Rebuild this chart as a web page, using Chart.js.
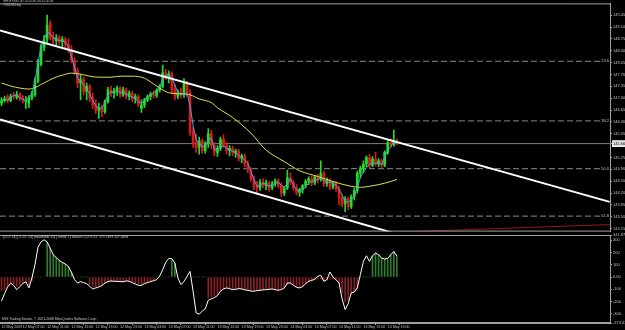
<!DOCTYPE html>
<html>
<head>
<meta charset="utf-8">
<script src="https://cdn.jsdelivr.net/npm/chart.js@4.4.0/dist/chart.umd.min.js"></script>
<style>
  html, body { margin: 0; padding: 0; background: #000; }
  #wrap { position: relative; width: 625px; height: 330px; background: #000; overflow: hidden; }
  canvas { position: absolute; left: 0; }
  #main { top: 0; }
  #ind { top: 229px; }
  .txt { position: absolute; color: #c8c8c8; font-family: "Liberation Sans", Arial, sans-serif; white-space: nowrap; line-height: 1; }
</style>
</head>
<body>
<div id="wrap">
  <canvas id="main" width="625" height="235"></canvas>
  <canvas id="ind" width="625" height="101"></canvas>
  <div class="txt" style="left:3px; top:1px; font-size:2.6px;">GBPJPY,M30 145.74 145.80 145.63 145.66</div>
  <div class="txt" style="left:3px; top:5px; font-size:2.6px;">#13552924 buy</div>
  <div class="txt" style="left:3px; top:236px; font-size:3.4px;">[CCI: 14] [TCCI: 14] [ma=EMA: 20] [Trend: 1] Values CCI/TCCI: 171.1693 127.6894</div>
  <div class="txt" style="left:2px; top:318px; font-size:3.4px;">MIG Trading Station, &copy; 2001-2008 MetaQuotes Software Corp.</div>
</div>
<script>
"use strict";

// GBPJPY M30 bars, 12 May 03:30 .. 14 May 20:30
const open = [
  146.85,146.93,147.05,146.92,147.10,147.02,147.12,147.04,146.90,146.85,
  147.00,147.10,147.50,148.00,148.50,148.75,149.20,148.82,148.70,148.78,
  148.66,148.74,148.60,148.45,148.12,147.80,147.45,147.55,147.20,147.35,
  147.00,146.80,146.65,146.72,146.60,146.90,147.25,147.15,147.22,147.30,
  147.10,147.25,147.05,147.15,146.98,147.05,146.70,146.80,146.95,147.05,
  147.12,147.08,147.24,147.35,147.75,147.62,147.72,147.25,147.05,147.18,
  147.10,147.45,147.15,146.00,145.70,145.55,145.75,145.45,145.65,145.95,
  145.60,145.40,145.52,145.78,145.62,145.45,145.52,145.38,145.44,145.22,
  145.30,145.05,144.88,144.62,144.40,144.35,144.52,144.42,144.50,144.35,
  144.48,144.56,144.42,144.20,144.35,144.65,144.52,144.35,144.22,144.30,
  144.42,144.55,144.62,144.50,144.68,144.65,144.78,144.48,144.58,144.38,
  144.50,144.32,144.05,143.88,144.02,143.80,144.10,144.28,144.78,144.92,
  145.05,145.25,145.02,145.20,145.08,145.15,145.02,145.40,145.68,145.62,
  145.74
];
const high = [
  147.02,147.06,147.10,147.12,147.18,147.20,147.16,147.08,147.05,147.08,
  147.20,147.60,148.15,148.60,148.85,149.45,149.28,148.95,148.88,148.85,
  148.82,148.80,148.75,148.55,148.20,147.90,147.70,147.62,147.45,147.40,
  147.15,146.95,146.85,146.80,146.95,147.32,147.35,147.30,147.36,147.34,
  147.32,147.30,147.22,147.20,147.12,147.10,146.95,147.00,147.10,147.18,
  147.22,147.28,147.40,147.98,147.85,147.80,147.78,147.40,147.25,147.30,
  147.58,147.50,147.25,146.15,145.95,145.85,145.80,145.72,146.10,146.05,
  145.70,145.60,145.85,145.92,145.70,145.60,145.58,145.50,145.50,145.35,
  145.35,145.15,144.95,144.70,144.55,144.60,144.62,144.58,144.55,144.55,
  144.62,144.62,144.50,144.40,144.88,144.80,144.58,144.45,144.35,144.45,
  144.60,144.68,144.70,144.72,144.75,145.15,144.85,144.65,144.62,144.55,
  144.55,144.40,144.15,144.10,144.08,144.15,144.35,144.85,145.00,145.15,
  145.30,145.35,145.28,145.40,145.22,145.20,145.45,145.75,145.80,146.06,
  145.80
];
const low = [
  146.78,146.88,146.86,146.90,146.98,146.97,146.92,146.86,146.70,146.72,
  146.95,147.05,147.45,147.95,148.40,148.65,148.72,148.60,148.55,148.58,
  148.50,148.48,148.35,148.05,147.70,147.30,146.95,147.10,146.95,146.90,
  146.70,146.55,146.40,146.45,146.55,146.85,147.05,147.00,147.08,147.02,
  147.05,146.98,146.95,146.90,146.85,146.75,146.58,146.72,146.90,146.95,
  147.00,147.02,147.18,147.30,147.55,147.45,147.15,146.95,146.98,147.00,
  147.02,147.05,145.90,145.55,145.40,145.35,145.38,145.38,145.55,145.50,
  145.30,145.28,145.45,145.55,145.35,145.30,145.30,145.25,145.15,145.10,
  144.98,144.80,144.55,144.30,144.15,144.28,144.35,144.30,144.25,144.30,
  144.40,144.35,144.10,144.12,144.30,144.45,144.28,144.15,144.10,144.20,
  144.35,144.45,144.42,144.45,144.50,144.55,144.40,144.40,144.30,144.32,
  144.25,143.85,143.80,143.65,143.72,143.75,144.00,144.20,144.65,144.80,
  144.98,144.95,144.98,145.00,144.98,144.95,144.98,145.35,145.55,145.58,
  145.63
];
const close = [
  146.93,146.98,146.93,147.04,147.07,147.10,147.01,146.96,146.93,147.01,
  147.13,147.51,148.03,148.52,148.73,149.15,148.80,148.70,148.78,148.66,
  148.74,148.60,148.45,148.12,147.80,147.45,147.55,147.20,147.35,147.00,
  146.80,146.65,146.72,146.60,146.90,147.25,147.15,147.22,147.30,147.10,
  147.25,147.05,147.15,146.98,147.05,146.82,146.80,146.95,147.05,147.12,
  147.08,147.24,147.35,147.75,147.62,147.72,147.25,147.05,147.18,147.10,
  147.45,147.15,146.00,145.70,145.55,145.75,145.45,145.65,145.95,145.60,
  145.40,145.52,145.78,145.62,145.45,145.52,145.38,145.44,145.22,145.30,
  145.05,144.88,144.62,144.40,144.35,144.52,144.42,144.50,144.35,144.48,
  144.56,144.42,144.20,144.35,144.65,144.52,144.35,144.22,144.30,144.42,
  144.55,144.62,144.50,144.68,144.58,144.78,144.48,144.58,144.38,144.50,
  144.32,144.05,143.88,144.02,143.80,144.10,144.28,144.78,144.92,145.05,
  145.25,145.02,145.20,145.08,145.15,145.02,145.40,145.68,145.62,145.74,
  145.66
];
// short moving average (blue)
const fastMa = [
  146.93,146.98,146.93,147.04,147.07,147.10,147.01,146.96,146.93,147.01,
  147.13,147.51,148.03,148.52,148.73,148.96,148.90,148.78,148.73,148.70,
  148.70,148.64,148.52,148.23,147.91,147.59,147.51,147.39,147.27,147.13,
  146.93,146.78,146.69,146.72,146.84,147.10,147.19,147.16,147.22,147.16,
  147.19,147.13,147.07,147.04,146.98,146.90,146.84,146.93,147.04,147.10,
  147.16,147.22,147.33,147.57,147.68,147.68,147.59,147.39,147.16,147.10,
  147.13,147.16,146.78,146.20,145.76,145.68,145.56,145.59,145.76,145.82,
  145.47,145.50,145.56,145.59,145.53,145.47,145.44,145.39,145.30,145.24,
  145.18,145.07,144.84,144.60,144.40,144.43,144.49,144.46,144.40,144.43,
  144.49,144.52,144.43,144.37,144.49,144.63,144.43,144.31,144.23,144.28,
  144.40,144.49,144.55,144.57,144.60,144.63,144.57,144.52,144.52,144.49,
  144.43,144.31,144.14,143.96,143.93,144.02,144.08,144.37,144.66,144.81,
  144.95,145.04,145.10,145.07,145.07,145.04,145.24,145.47,145.56,145.74,
  145.66
];
// long moving average (yellow), read at a few bars
const slowMaBar = [0,3,6,9,14,17,20,23,26,29,32,36,39,43,47,50,52,55,59,62,65,69,71,76,82,87,93,98,104,109,115,118,121,126,130];
const slowMa = [147.45,147.36,147.30,147.27,147.45,147.59,147.68,147.74,147.71,147.65,147.62,147.62,147.65,147.65,147.59,147.42,147.30,147.16,147.13,147.10,146.98,146.87,146.72,146.43,145.97,145.47,145.13,144.86,144.69,144.54,144.40,144.37,144.40,144.49,144.60];

// CCI line and TCCI histogram
const cci = [
  -197,-135,-81,-51,-68,-103,-78,-54,-38,-89,
  -8,100,243,286,303,286,235,181,157,135,
  119,105,86,38,-22,-49,-38,-46,-54,-76,
  -97,-89,-81,-70,-49,-38,-32,-35,-35,-38,
  -38,-32,-35,-46,-57,-68,-68,-54,-46,-38,
  -30,-22,8,59,119,151,149,114,-8,-62,
  -38,5,46,-116,-292,-303,-278,-259,-189,-178,
  -168,-151,-116,-97,-89,-95,-103,-100,-95,-97,
  -105,-108,-114,-116,-111,-108,-105,-103,-100,-97,
  -103,-108,-103,-89,-49,-49,-68,-84,-89,-78,
  -54,-35,-27,-19,5,14,-35,-22,41,0,
  -22,-49,-178,-265,-216,-130,-122,-89,19,127,
  173,127,173,195,181,154,146,151,181,208,
  171
];
const tcci = [
  -110,-100,-80,-55,-60,-75,-65,-50,-42,-60,
  -30,0,0,0,0,286,235,181,157,135,
  119,105,86,40,0,0,0,0,0,-60,
  -75,-80,-75,-65,-50,-40,-35,-35,-35,-38,
  -38,-35,-35,-42,-50,-58,-60,-50,-45,-38,
  -30,0,0,0,0,0,140,110,0,0,
  0,0,0,0,0,0,0,0,-170,-165,
  -155,-140,-115,-97,-90,-92,-100,-100,-95,-97,
  -103,-106,-110,-112,-110,-107,-104,-102,-100,-98,
  -100,-104,-102,-90,-60,-55,-65,-80,-85,-78,
  -58,-42,-32,-25,-18,-15,-25,-22,-15,-15,
  -25,-50,-130,-200,-190,-130,-120,-90,0,0,
  0,0,173,195,181,154,146,151,181,208,
  171
];

// drawn objects
const lineBars = [-0.5, 200];
const channelTop = [149.00, 143.94];
const channelBottom = [146.37, 141.18];
const redLineBars = [131, 200];
const redLine = [143.05, 143.27];
const fibBars = [-0.5, 197.5];
const fibLevels = [148.09, 146.33, 144.92, 143.52];
const fibLabels = ["23.6", "38.2", "50.0", "61.8"];

// axes
const priceTicks = [149.45,149.10,148.75,148.40,148.05,147.70,147.35,147.00,146.65,146.30,145.95,145.25,144.90,144.55,144.20,143.85,143.50,143.15];
const currentPrice = close[close.length - 1];
const cciTicks = [341.876, 300, 200, 100, 0, -100, -200, -300, -374.43];
const cciTickLabels = ["341.876", "300", "200", "100", "0.00", "-100", "-200", "-300", "-374.43"];
const timeTickBars = [0,7,15,23,31,39,47,55,63,71,79,87,95,103,111,119,127];
const timeLabels = ["12 May 2009","12 May 07:00","12 May 11:00","12 May 15:00","12 May 19:00","12 May 23:00","13 May 03:00","13 May 07:00","13 May 11:00","13 May 15:00","13 May 19:00","13 May 23:00","14 May 03:00","14 May 07:00","14 May 11:00","14 May 15:00","14 May 19:00"];

Chart.defaults.font.family = '"Liberation Sans", Arial, sans-serif';
Chart.defaults.font.size = 4;
Chart.defaults.color = "#c0c0c0";

const UP = "#22dd22", DOWN = "#e01818", AXIS = "#a0a0a0";

const framePlugin = {
  id: "frame",
  afterDraw(chart) {
    const { ctx, chartArea: a } = chart;
    ctx.save();
    ctx.strokeStyle = AXIS;
    ctx.lineWidth = 1;
    ctx.beginPath();
    ctx.moveTo(a.left, a.top + 0.5);
    ctx.lineTo(a.right, a.top + 0.5);
    ctx.moveTo(a.left, a.bottom - 0.5);
    ctx.lineTo(a.right, a.bottom - 0.5);
    ctx.stroke();
    ctx.restore();
  }
};

const fibLabelPlugin = {
  id: "fibLabels",
  afterDatasetsDraw(chart) {
    const { ctx, chartArea: a } = chart;
    const y = chart.scales.y;
    ctx.save();
    ctx.font = '4px "Liberation Sans", Arial, sans-serif';
    ctx.fillStyle = "#c8c0a0";
    ctx.textAlign = "right";
    ctx.textBaseline = "middle";
    fibLevels.forEach((v, k) => ctx.fillText(fibLabels[k], a.right - 1, y.getPixelForValue(v)));
    ctx.restore();
  }
};

function pts(xs, ys) {
  return xs.map((x, i) => ({ x: x, y: ys[i] }));
}
function seg(name, ys, color, width, order) {
  return {
    type: "line", label: name, data: pts(lineBars, ys), borderColor: color,
    borderWidth: width, pointRadius: 0, order: order, clip: 0
  };
}

const bars = close.map((c, i) => i);
const candleColor = (ctx) => close[ctx.dataIndex] >= open[ctx.dataIndex] ? UP : DOWN;

const mainDatasets = [
  seg("channel top", channelTop, "#ffffff", 2, 0),
  seg("channel bottom", channelBottom, "#ffffff", 2, 0),
  {
    type: "line", label: "red line", data: pts(redLineBars, redLine), borderColor: "#8b1a1a",
    borderWidth: 1, pointRadius: 0, order: 0, clip: 0
  },
  {
    type: "line", label: "fast MA", data: bars.map(i => ({ x: i, y: fastMa[i] })),
    borderColor: "#4f9fe8", borderWidth: 1, pointRadius: 0, order: 1
  },
  {
    type: "line", label: "slow MA", data: pts(slowMaBar, slowMa), borderColor: "#e0e050",
    borderWidth: 1, pointRadius: 0, cubicInterpolationMode: "monotone", order: 2
  },
  {
    type: "bar", label: "body", data: bars.map(i => ({ x: i, y: [open[i], close[i]] })),
    backgroundColor: candleColor, barThickness: 2, minBarLength: 1, grouped: false, order: 3
  },
  {
    type: "bar", label: "wick", data: bars.map(i => ({ x: i, y: [low[i], high[i]] })),
    backgroundColor: candleColor, barThickness: 1, grouped: false, order: 4
  },
  {
    type: "line", label: "price", data: pts(lineBars, [currentPrice, currentPrice]),
    borderColor: "#808080", borderWidth: 1, pointRadius: 0, order: 5
  }
];
fibLevels.forEach((v, k) => {
  mainDatasets.push({
    type: "line", label: "fib " + fibLabels[k], data: pts(fibBars, [v, v]),
    borderColor: "#8c8c78", borderWidth: 1, borderDash: [6, 3], pointRadius: 0, order: 6
  });
});

new Chart(document.getElementById("main"), {
  type: "bar",
  data: { datasets: mainDatasets },
  options: {
    responsive: false,
    animation: false,
    events: [],
    layout: { padding: { top: 1, bottom: 2, left: 0, right: 0 } },
    plugins: { legend: { display: false }, tooltip: { enabled: false } },
    scales: {
      x: { type: "linear", min: -0.5, max: 200.1, offset: false, display: false },
      y: {
        type: "linear",
        position: "right",
        min: 143.063,
        max: 149.798,
        beginAtZero: false,
        afterFit: (s) => { s.width = 15; },
        afterBuildTicks: (s) => {
          s.ticks = priceTicks.concat([currentPrice]).map(v => ({ value: v }));
        },
        ticks: {
          autoSkip: false,
          padding: 1,
          callback: (v) => Number(v).toFixed(2),
          color: (c) => (c.tick && c.tick.value === currentPrice) ? "#000000" : "#c0c0c0",
          showLabelBackdrop: (c) => !!(c.tick && c.tick.value === currentPrice),
          backdropColor: "#e8e8e8",
          backdropPadding: { top: 1, bottom: 1, left: 1, right: 3 }
        },
        grid: { drawOnChartArea: false, tickLength: 2, color: AXIS },
        border: { color: AXIS }
      }
    }
  },
  plugins: [framePlugin, fibLabelPlugin]
});

new Chart(document.getElementById("ind"), {
  type: "bar",
  data: {
    datasets: [
      {
        type: "line", label: "CCI", data: bars.map(i => ({ x: i, y: cci[i] })),
        borderColor: "#ffffff", borderWidth: 1, pointRadius: 0, order: 0
      },
      {
        type: "bar", label: "TCCI", data: bars.map(i => ({ x: i, y: [0, tcci[i]] })),
        backgroundColor: (ctx) => tcci[ctx.dataIndex] >= 0 ? "#2e7d2e" : "#862222",
        barThickness: 1, grouped: false, order: 1
      }
    ]
  },
  options: {
    responsive: false,
    animation: false,
    events: [],
    layout: { padding: { top: 6, bottom: 0, left: 0, right: 0 } },
    plugins: { legend: { display: false }, tooltip: { enabled: false } },
    scales: {
      x: {
        type: "linear", min: -0.5, max: 200.1, offset: false,
        afterFit: (s) => { s.height = 7; },
        afterBuildTicks: (s) => { s.ticks = timeTickBars.map(v => ({ value: v })); },
        ticks: {
          autoSkip: false, maxRotation: 0, align: "start", padding: 0,
          font: { size: 3.6 },
          callback: (v) => timeLabels[timeTickBars.indexOf(v)]
        },
        grid: { drawOnChartArea: false, tickLength: 2, color: AXIS },
        border: { color: AXIS }
      },
      y: {
        type: "linear",
        position: "right",
        min: -374.43,
        max: 341.876,
        beginAtZero: false,
        afterFit: (s) => { s.width = 15; },
        afterBuildTicks: (s) => { s.ticks = cciTicks.map(v => ({ value: v })); },
        ticks: {
          autoSkip: false,
          padding: 1,
          callback: (v) => cciTickLabels[cciTicks.indexOf(v)]
        },
        grid: { drawOnChartArea: false, tickLength: 2, color: AXIS },
        border: { color: AXIS }
      }
    }
  },
  plugins: [framePlugin]
});
</script>
</body>
</html>
